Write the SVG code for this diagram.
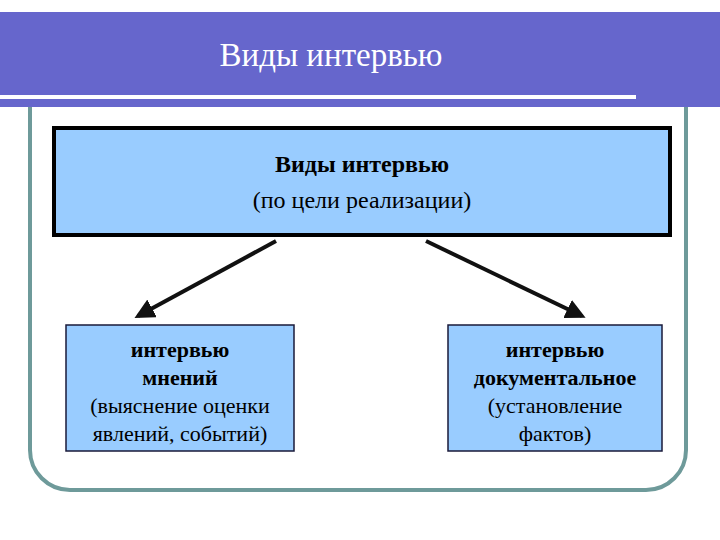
<svg xmlns="http://www.w3.org/2000/svg" width="720" height="540" viewBox="0 0 720 540">
<style>
text{font-family:'Liberation Serif','DejaVu Serif',serif;fill:#000;text-anchor:middle}
.b{font-weight:bold}
.box{fill:#99CCFF;stroke:#1a1a3a;stroke-width:1.5}
.cn{stroke:#111;stroke-width:4;fill:none;marker-end:url(#ah)}
</style>
<defs><marker id="ah" markerWidth="5" markerHeight="5" refX="4" refY="2.5" orient="auto"><path d="M0,0L5,2.5L0,5z" fill="#111"/></marker></defs>
<rect width="720" height="540" fill="#fff"/>
<path d="M30,105 V450 A40,40 0 0 0 70,490 H646 A40,40 0 0 0 686,450 V105" fill="none" stroke="#6E9A9A" stroke-width="4"/>
<rect x="0" y="12" width="720" height="95" fill="#6666CC"/>
<rect x="0" y="95" width="636" height="4" fill="#fff"/>
<text x="331" y="66" font-family="Liberation Serif, serif" style="fill:#fff;font-size:33px">Виды интервью</text>
<g id="main"><rect x="54" y="128" width="616" height="107" fill="#99CCFF" stroke="#000" stroke-width="4"/>
<text class="b" x="362" y="172" font-size="24" font-family="Liberation Serif, serif">Виды интервью</text>
<text x="362" y="208" font-size="24" font-family="Liberation Serif, serif">(по цели реализации)</text></g>
<g id="left"><rect class="box" x="66" y="325" width="228" height="126"/>
<text font-size="22" font-family="Liberation Serif, serif"><tspan class="b" x="180" y="357">интервью</tspan><tspan class="b" x="180" y="385">мнений</tspan><tspan x="180" y="413">(выяснение оценки</tspan><tspan x="180" y="441">явлений, событий)</tspan></text></g>
<g id="right"><rect class="box" x="448" y="325" width="214" height="126"/>
<text font-size="22" font-family="Liberation Serif, serif"><tspan class="b" x="555" y="357">интервью</tspan><tspan class="b" x="555" y="385">документальное</tspan><tspan x="555" y="413">(установление</tspan><tspan x="555" y="441">фактов)</tspan></text></g>
<g id="connectors"><line class="cn" x1="276" y1="241" x2="138" y2="316"/><line class="cn" x1="426" y1="241" x2="582" y2="316"/></g>
</svg>
